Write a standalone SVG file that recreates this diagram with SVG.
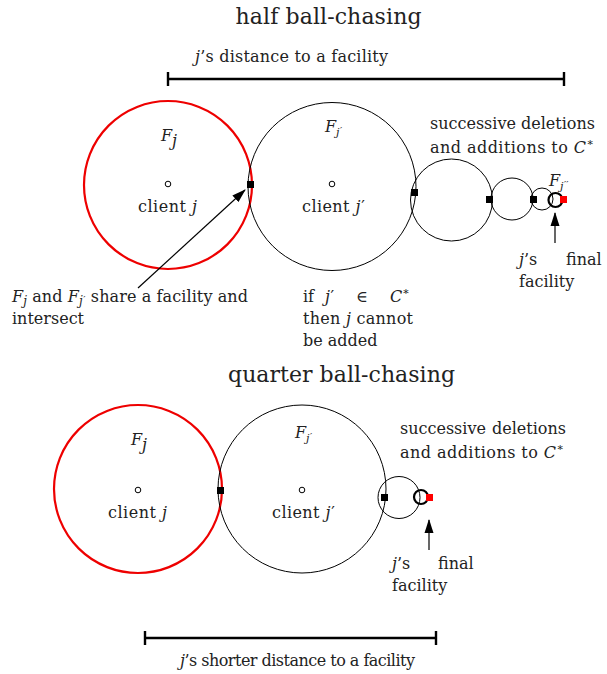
<svg xmlns="http://www.w3.org/2000/svg" width="607" height="674" viewBox="0 0 607 674" font-family="'DejaVu Serif', serif">
<style>
text{font-family:'DejaVu Serif',serif;fill:#222;font-size:16px}
.t{font-size:22px;text-anchor:middle}
.c{text-anchor:middle}
.i{font-style:italic}
.p{font-style:normal}
.ball{fill:none;stroke:#000;stroke-width:1}
.red{fill:none;stroke:#e00;stroke-width:2.2}
.thick{fill:none;stroke:#000;stroke-width:2.2}
.dot{fill:#fff;stroke:#000;stroke-width:1}
.sq{fill:#000}
.rsq{fill:#f00}
.bar{stroke:#000;stroke-width:2.4;fill:none}
.arr{stroke:#000;stroke-width:1.2;fill:none}
</style>
<defs>
<marker id="ah" viewBox="0 0 14 10" refX="13" refY="5" markerWidth="14" markerHeight="10" markerUnits="userSpaceOnUse" orient="auto"><path d="M0,0.5 L14,5 L0,9.5 z" fill="#000"/></marker>
</defs>

<g id="top">
<text class="t" x="328.5" y="24" textLength="186">half ball-chasing</text>
<g id="dist-bar">
<path class="bar" d="M168,79 H564 M168,72 V86 M564,72 V86"/>
<text x="195" y="62" textLength="193"><tspan class="i">j</tspan>’s distance to a facility</text>
</g>
<g id="Fj">
<circle class="red" cx="168" cy="185" r="84"/>
<circle class="dot" cx="168" cy="184" r="2.8"/>
<text x="161" y="141" font-size="24" class="i">F<tspan font-size="16" dy="5">j</tspan></text>
<text class="c" x="167.5" y="212" textLength="59">client <tspan class="i">j</tspan></text>
</g>
<g id="Fjp">
<circle class="ball" cx="332" cy="186.5" r="84"/>
<circle class="dot" cx="332" cy="184" r="2.8"/>
<text x="325" y="132" class="i" font-size="17">F<tspan font-size="11" dy="4">j</tspan><tspan class="p" font-size="10" dx="0.5" dy="-2">′</tspan></text>
<text class="c" x="333.5" y="212" textLength="63">client <tspan class="i">j</tspan><tspan dx="0.5">′</tspan></text>
</g>
<g id="chain1">
<circle class="ball" cx="451.5" cy="200" r="41"/>
<circle class="ball" cx="512" cy="199" r="21"/>
<circle class="ball" cx="542" cy="199" r="11"/>
<circle class="thick" cx="555.5" cy="200" r="7"/>
<text x="549" y="186" class="i" font-size="16">F<tspan font-size="11" dy="4">j</tspan><tspan class="p" font-size="10" dx="0.5" dy="-2">′′</tspan></text>
</g>
<g id="facilities1">
<rect class="sq" x="247" y="181" width="7" height="7"/>
<rect class="sq" x="411" y="189" width="7" height="7"/>
<rect class="sq" x="486" y="196" width="7" height="7"/>
<rect class="sq" x="530" y="196" width="7" height="7"/>
<rect class="rsq" x="560" y="196" width="7" height="7"/>
</g>
<g id="labels1">
<text x="430" y="129">successive<tspan x="521">deletions</tspan></text>
<text x="430" y="153" textLength="164">and additions to <tspan class="i">C</tspan><tspan font-size="11" dy="-7">∗</tspan></text>
<text x="519" y="265"><tspan class="i">j</tspan>’s<tspan x="566">final</tspan></text>
<text x="519" y="287">facility</text>
<text x="12" y="302" textLength="236"><tspan class="i">F<tspan font-size="12" dy="3">j</tspan></tspan><tspan dy="-3"> and </tspan><tspan class="i">F<tspan font-size="12" dy="3">j</tspan></tspan><tspan font-size="10" dx="0.5" dy="-2">′</tspan><tspan dy="-1"> share a facility and</tspan></text>
<text x="12" y="324">intersect</text>
<text x="303" y="302">if<tspan class="i" x="325">j</tspan><tspan dx="0.5">′</tspan><tspan x="356">∈</tspan><tspan class="i" x="390">C</tspan><tspan font-size="11" dy="-7">∗</tspan></text>
<text x="303" y="324" textLength="110">then <tspan class="i">j</tspan> cannot</text>
<text x="303" y="346">be added</text>
</g>
</g>

<g id="bottom">
<text class="t" x="341.5" y="382" textLength="227">quarter ball-chasing</text>
<g id="Fj-b">
<circle class="red" cx="138" cy="489" r="84"/>
<circle class="dot" cx="138" cy="490" r="2.8"/>
<text x="131" y="445" font-size="24" class="i">F<tspan font-size="16" dy="5">j</tspan></text>
<text class="c" x="137.5" y="518" textLength="59">client <tspan class="i">j</tspan></text>
</g>
<g id="Fjp-b">
<circle class="ball" cx="302" cy="489" r="84"/>
<circle class="dot" cx="302" cy="490" r="2.8"/>
<text x="295" y="438" class="i" font-size="17">F<tspan font-size="11" dy="4">j</tspan><tspan class="p" font-size="10" dx="0.5" dy="-2">′</tspan></text>
<text class="c" x="303.5" y="518" textLength="63">client <tspan class="i">j</tspan><tspan dx="0.5">′</tspan></text>
</g>
<g id="chain2">
<circle class="ball" cx="399" cy="497.5" r="21"/>
<circle class="thick" cx="421" cy="497" r="7"/>
</g>
<g id="facilities2">
<rect class="sq" x="217" y="487" width="7" height="7"/>
<rect class="sq" x="381" y="494" width="7" height="7"/>
<rect class="rsq" x="426" y="494" width="7" height="7"/>
</g>
<g id="labels2">
<text x="400" y="434">successive<tspan x="492">deletions</tspan></text>
<text x="400" y="458" textLength="164">and additions to <tspan class="i">C</tspan><tspan font-size="11" dy="-7">∗</tspan></text>
<text x="392" y="569"><tspan class="i">j</tspan>’s<tspan x="438">final</tspan></text>
<text x="392" y="591">facility</text>
</g>
<g id="dist-bar-b">
<path class="bar" d="M145,638 H436 M145,631 V645 M436,631 V645"/>
<text class="c" x="297.5" y="666" textLength="235"><tspan class="i">j</tspan>’s shorter distance to a facility</text>
</g>
</g>

<g id="connectors">
<line class="arr" x1="138" y1="288" x2="245" y2="190" marker-end="url(#ah)"/>
<line class="arr" x1="555" y1="243" x2="555" y2="213" marker-end="url(#ah)"/>
<line class="arr" x1="429" y1="550" x2="429" y2="520" marker-end="url(#ah)"/>
</g>
</svg>
